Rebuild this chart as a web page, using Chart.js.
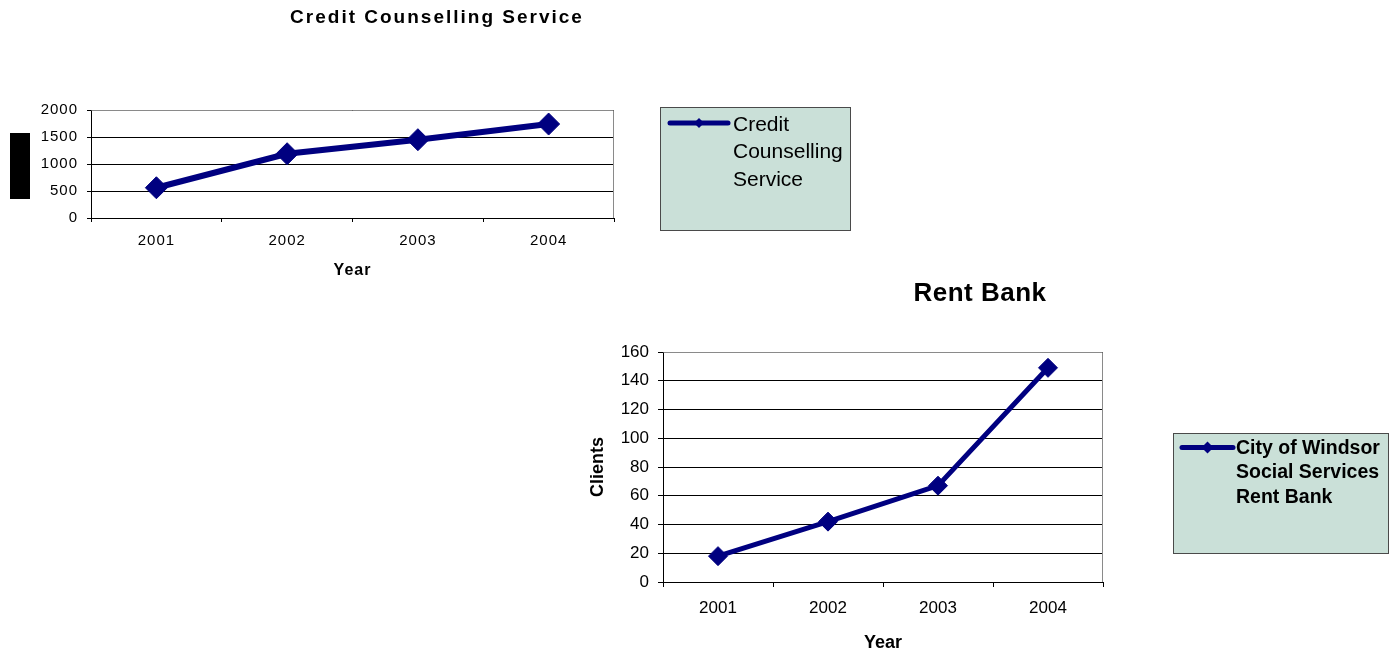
<!DOCTYPE html>
<html>
<head>
<meta charset="utf-8">
<script src="https://cdn.jsdelivr.net/npm/chart.js@4.4.1/dist/chart.umd.min.js"></script>
<style>
  html, body { margin: 0; padding: 0; background: #fff; }
  body { width: 1396px; height: 654px; position: relative; overflow: hidden; }
  canvas { position: absolute; left: 0; }
  #credit { top: 0; }
  #rent { top: 280px; }
</style>
</head>
<body>
<canvas id="credit" width="1396" height="285"></canvas>
<canvas id="rent" width="1396" height="374"></canvas>
<script>
// Yearly client counts for the two programmes
const years = ['2001', '2002', '2003', '2004'];
const creditClients = [560, 1190, 1450, 1740];
const rentBankClients = [18, 42, 67, 149];

// Value-axis tick labels
const creditTicks = [0, 500, 1000, 1500, 2000];
const rentTicks = [0, 20, 40, 60, 80, 100, 120, 140, 160];

// Titles and legend entries
const creditTitle = 'Credit Counselling Service';
const creditLegend = ['Credit', 'Counselling', 'Service'];
const rentTitle = 'Rent Bank';
const rentLegend = ['City of Windsor', 'Social Services', 'Rent Bank'];
const axisYear = 'Year';
const axisClients = 'Clients';

const FAMILY = "'Liberation Sans', Arial, Helvetica, sans-serif";
const NAVY = '#000080';
const GRID = '#000000';
const FRAME = '#8a8a8a';

function fixedTicks(values) {
  return function (scale) {
    scale.ticks = values.map(v => ({ value: v }));
  };
}
function plainLabel(value) {
  return String(value);
}

// Draws the chart title, the plot frame (top/right), the legend box and extras
function decor(opts) {
  return {
    id: 'decor',
    beforeDraw(chart) {
      chart.ctx.letterSpacing = opts.spacing;
    },
    beforeDatasetsDraw(chart) {
      const { ctx, chartArea: a } = chart;
      ctx.save();
      ctx.strokeStyle = FRAME;
      ctx.lineWidth = 1;
      ctx.beginPath();
      ctx.moveTo(Math.round(a.left) + 0.5, Math.round(a.top) + 0.5);
      ctx.lineTo(Math.round(a.right) - 0.5, Math.round(a.top) + 0.5);
      ctx.lineTo(Math.round(a.right) - 0.5, Math.round(a.bottom));
      ctx.stroke();
      ctx.restore();
    },
    afterDraw(chart) {
      const ctx = chart.ctx;
      ctx.save();
      // title
      ctx.letterSpacing = opts.title.spacing;
      ctx.fillStyle = '#000';
      ctx.font = opts.title.font;
      ctx.textAlign = 'center';
      ctx.textBaseline = 'alphabetic';
      ctx.fillText(opts.title.text, opts.title.x, opts.title.y);

      // legend box
      const L = opts.legend;
      ctx.letterSpacing = '0px';
      ctx.fillStyle = '#cae0d8';
      ctx.fillRect(L.box[0], L.box[1], L.box[2], L.box[3]);
      ctx.strokeStyle = '#4a4a4a';
      ctx.lineWidth = 1;
      ctx.strokeRect(L.box[0] + 0.5, L.box[1] + 0.5, L.box[2] - 1, L.box[3] - 1);

      ctx.strokeStyle = NAVY;
      ctx.lineWidth = 5;
      ctx.lineCap = 'round';
      ctx.beginPath();
      ctx.moveTo(L.line[0], L.line[2]);
      ctx.lineTo(L.line[1], L.line[2]);
      ctx.stroke();
      const mx = (L.line[0] + L.line[1]) / 2;
      const r = L.marker;
      ctx.fillStyle = NAVY;
      ctx.beginPath();
      ctx.moveTo(mx - r, L.line[2]);
      ctx.lineTo(mx, L.line[2] - r);
      ctx.lineTo(mx + r, L.line[2]);
      ctx.lineTo(mx, L.line[2] + r);
      ctx.closePath();
      ctx.fill();

      ctx.fillStyle = '#000';
      ctx.font = L.font;
      ctx.textAlign = 'left';
      L.lines.forEach((t, i) => ctx.fillText(t, L.textX, L.baseline + i * L.step));

      if (opts.block) {
        ctx.fillStyle = '#000';
        ctx.fillRect(opts.block[0], opts.block[1], opts.block[2], opts.block[3]);
      }
      ctx.restore();
    }
  };
}

function lineDataset(label, data, width, radius) {
  return {
    label,
    data,
    borderColor: NAVY,
    backgroundColor: NAVY,
    borderWidth: width,
    pointStyle: 'rectRot',
    pointRadius: radius,
    pointBackgroundColor: NAVY,
    pointBorderColor: NAVY,
    pointBorderWidth: 1,
    tension: 0,
    clip: false
  };
}

const baseOptions = {
  responsive: false,
  animation: false,
  events: [],
  plugins: { legend: { display: false }, title: { display: false }, tooltip: { enabled: false } }
};

// Credit Counselling Service
new Chart(document.getElementById('credit'), {
  type: 'line',
  data: { labels: years, datasets: [lineDataset(creditLegend.join(' '), creditClients, 6, 11)] },
  options: {
    ...baseOptions,
    layout: { padding: { left: 0, top: 110, right: 782, bottom: 0 } },
    scales: {
      x: {
        offset: true,
        grid: { offset: true, drawOnChartArea: false, drawTicks: true, tickLength: 4, color: '#000' },
        border: { display: true, color: '#000', width: 1 },
        ticks: { padding: 10, color: '#000', maxRotation: 0, autoSkip: false, font: { family: FAMILY, size: 15 } },
        title: { display: true, text: axisYear, color: '#000', font: { family: FAMILY, size: 16, weight: 'bold' }, padding: { top: 0, bottom: 5 } },
        afterFit(s) { s.height = 67; }
      },
      y: {
        min: 0, max: 2000,
        afterBuildTicks: fixedTicks(creditTicks),
        grid: { color: GRID, lineWidth: 1, drawTicks: true, tickLength: 4 },
        border: { display: true, color: '#000', width: 1 },
        ticks: { padding: 9, color: '#000', font: { family: FAMILY, size: 15 }, callback: plainLabel },
        afterFit(s) { s.width = 91; }
      }
    }
  },
  plugins: [decor({
    spacing: '1px',
    title: { text: creditTitle, font: `bold 19px ${FAMILY}`, spacing: '2px', x: 437, y: 23 },
    legend: {
      box: [660, 107, 191, 124],
      line: [670, 728, 123],
      marker: 5,
      font: `21px ${FAMILY}`,
      lines: creditLegend,
      textX: 733, baseline: 130.5, step: 27.5
    },
    block: [10, 133, 20, 66]
  })]
});

// Rent Bank
new Chart(document.getElementById('rent'), {
  type: 'line',
  data: { labels: years, datasets: [lineDataset(rentLegend.join(' '), rentBankClients, 5, 9.5)] },
  options: {
    ...baseOptions,
    layout: { padding: { left: 564, top: 72, right: 293, bottom: 0 } },
    scales: {
      x: {
        offset: true,
        grid: { offset: true, drawOnChartArea: false, drawTicks: true, tickLength: 5, color: '#000' },
        border: { display: true, color: '#000', width: 1 },
        ticks: { padding: 11, color: '#000', maxRotation: 0, autoSkip: false, font: { family: FAMILY, size: 17 } },
        title: { display: true, text: axisYear, color: '#000', font: { family: FAMILY, size: 18, weight: 'bold' }, padding: { top: 0, bottom: 0 } },
        afterFit(s) { s.height = 72; }
      },
      y: {
        min: 0, max: 160,
        afterBuildTicks: fixedTicks(rentTicks),
        grid: { color: GRID, lineWidth: 1, drawTicks: true, tickLength: 5 },
        border: { display: true, color: '#000', width: 1 },
        ticks: { padding: 9, color: '#000', font: { family: FAMILY, size: 17 }, callback: plainLabel },
        title: { display: true, text: axisClients, color: '#000', font: { family: FAMILY, size: 18, weight: 'bold' }, padding: { top: 23, bottom: 0 } },
        afterFit(s) { s.width = 99; }
      }
    }
  },
  plugins: [decor({
    spacing: '0px',
    title: { text: rentTitle, font: `bold 26px ${FAMILY}`, spacing: '0.5px', x: 980, y: 20.5 },
    legend: {
      box: [1173, 153, 216, 121],
      line: [1182, 1233, 167.5],
      marker: 6,
      font: `bold 19.5px ${FAMILY}`,
      lines: rentLegend,
      textX: 1236, baseline: 173.5, step: 24.5
    }
  })]
});
</script>
</body>
</html>
